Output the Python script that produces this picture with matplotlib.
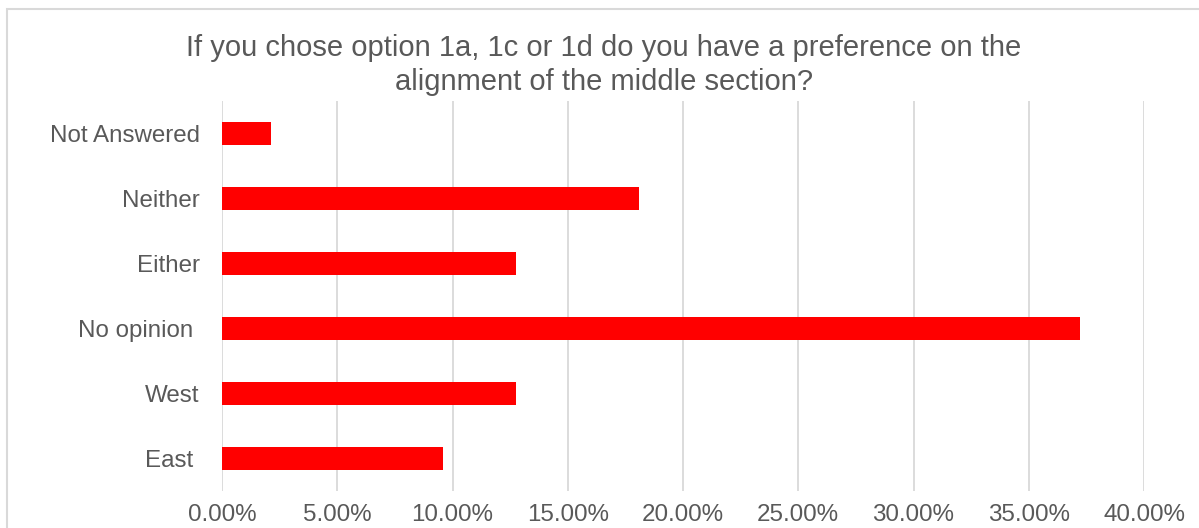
import matplotlib
matplotlib.use("Agg")
import matplotlib.pyplot as plt
from matplotlib.patches import Rectangle
from matplotlib.ticker import FuncFormatter

plt.rcParams["font.family"] = ["Liberation Sans", "DejaVu Sans"]

# answers, bottom to top as drawn
categories = ["East ", "West", "No opinion ", "Either", "Neither", "Not Answered"]
shares = [0.0957, 0.1277, 0.3723, 0.1277, 0.1809, 0.0213]
x_ticks = [0, 0.05, 0.10, 0.15, 0.20, 0.25, 0.30, 0.35, 0.40]

title = ("If you chose option 1a, 1c or 1d do you have a preference on the\n"
         "alignment of the middle section?")

text_grey = "#595959"
grid_grey = "#d9d9d9"

fig = plt.figure(figsize=(11.99, 5.28), dpi=100)
W, H = 1199, 528

# chart frame (runs off the right and bottom edges)
fig.patches.append(Rectangle((7 / W, -0.1), 1.2, 1 - 9 / H + 0.1,
                             transform=fig.transFigure, fill=False,
                             edgecolor=grid_grey, linewidth=1.5))

ax = fig.add_axes([222 / W, 1 - 491 / H, (1144 - 222) / W, 390 / H])
ypos = list(range(len(categories)))
ax.barh(ypos, shares, height=0.35, color="#ff0000", zorder=3)

ax.set_xlim(0, 0.40)
ax.set_ylim(-0.5, len(categories) - 0.5)
ax.set_xticks(x_ticks)
ax.xaxis.set_major_formatter(FuncFormatter(lambda v, p: "%.2f%%" % (v * 100)))
ax.set_yticks(ypos)
ax.set_yticklabels(categories)

ax.grid(axis="x", color=grid_grey, linewidth=1.3, zorder=0)
for s in ax.spines.values():
    s.set_visible(False)
ax.tick_params(axis="both", length=0, colors=text_grey, labelsize=17.4)
ax.tick_params(axis="y", pad=16)
ax.tick_params(axis="x", pad=9.5)

fig.text(604 / W, 1 - 65 / H, title, ha="center", va="center",
         fontsize=21, color=text_grey, linespacing=1.3)

fig.savefig("out.png", dpi=100)
